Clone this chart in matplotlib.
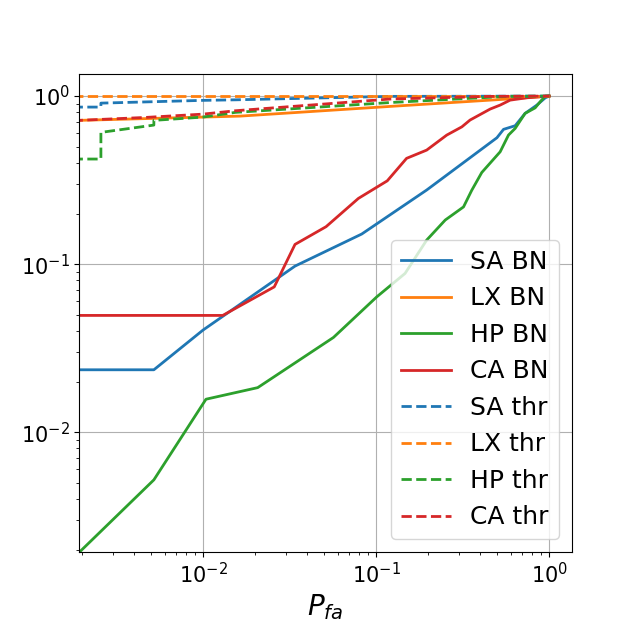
import numpy as np
import matplotlib
matplotlib.use("Agg")
import matplotlib.pyplot as plt

# detection prob vs false-alarm prob
sa_bn_x = [0, 0.0052, 0.01, 0.034, 0.0826, 0.196, 0.499, 0.545, 0.636, 0.726, 0.849, 0.95, 1.0]
sa_bn_y = [0.0235, 0.0235, 0.0405, 0.0973, 0.151, 0.276, 0.565, 0.634, 0.666, 0.789, 0.884, 0.977, 1.0]

lx_bn_x = [0, 0.00193, 0.01, 0.0164, 0.1205, 0.456, 0.572, 1.0]
lx_bn_y = [0.717, 0.717, 0.75, 0.760, 0.868, 0.946, 0.960, 1.0]

hp_bn_x = [0, 0.0052, 0.0104, 0.0207, 0.0567, 0.101, 0.147, 0.196, 0.251, 0.320, 0.357,
           0.408, 0.521, 0.582, 0.636, 0.726, 0.83, 0.887, 0.95, 1.0]
hp_bn_y = [0, 0.0052, 0.0157, 0.0184, 0.0366, 0.0639, 0.088, 0.139, 0.183, 0.219, 0.275,
           0.351, 0.466, 0.586, 0.642, 0.789, 0.851, 0.925, 1.0, 1.0]

ca_bn_x = [0, 0.013, 0.0258, 0.034, 0.0514, 0.079, 0.116, 0.150, 0.196, 0.256, 0.313,
           0.349, 0.456, 0.521, 0.595, 0.743, 1.0]
ca_bn_y = [0.0495, 0.0495, 0.0732, 0.131, 0.167, 0.246, 0.313, 0.426, 0.477, 0.586, 0.656,
           0.72, 0.837, 0.884, 0.946, 0.977, 1.0]

sa_thr_x = [0, 0.00257, 0.00257, 0.01, 0.0154, 0.12, 1.0]
sa_thr_y = [0.86, 0.86, 0.908, 0.943, 0.95, 0.996, 1.0]

lx_thr_x = [0, 1.0]
lx_thr_y = [1.0, 1.0]

hp_thr_x = [0, 0.00257, 0.00257, 0.0052, 0.0052, 0.01, 0.0154, 0.12, 0.572, 1.0]
hp_thr_y = [0.422, 0.422, 0.608, 0.672, 0.717, 0.75, 0.80, 0.915, 0.996, 1.0]

ca_thr_x = [0, 0.00193, 0.00473, 0.01, 0.0154, 0.12, 0.456, 1.0]
ca_thr_y = [0.717, 0.717, 0.747, 0.781, 0.818, 0.96, 0.996, 1.0]

fig, ax = plt.subplots(figsize=(6.35, 6.2), dpi=100)

ax.plot(sa_bn_x, sa_bn_y, color="C0", lw=2, label="SA BN")
ax.plot(lx_bn_x, lx_bn_y, color="C1", lw=2, label="LX BN")
ax.plot(hp_bn_x, hp_bn_y, color="C2", lw=2, label="HP BN")
ax.plot(ca_bn_x, ca_bn_y, color="C3", lw=2, label="CA BN")
ax.plot(sa_thr_x, sa_thr_y, color="C0", lw=2, ls="--", label="SA thr")
ax.plot(lx_thr_x, lx_thr_y, color="C1", lw=2, ls="--", label="LX thr")
ax.plot(hp_thr_x, hp_thr_y, color="C2", lw=2, ls="--", label="HP thr")
ax.plot(ca_thr_x, ca_thr_y, color="C3", lw=2, ls="--", label="CA thr")

ax.set_xscale("log")
ax.set_yscale("log")
ax.set_xlim(0.00193, 1.346)
ax.set_ylim(0.00194, 1.346)
ax.grid(True)
ax.tick_params(labelsize=15)
ax.set_xlabel(r"$P_{fa}$", fontsize=20)
ax.legend(fontsize=18, loc="lower right")

fig.savefig("out.png")
